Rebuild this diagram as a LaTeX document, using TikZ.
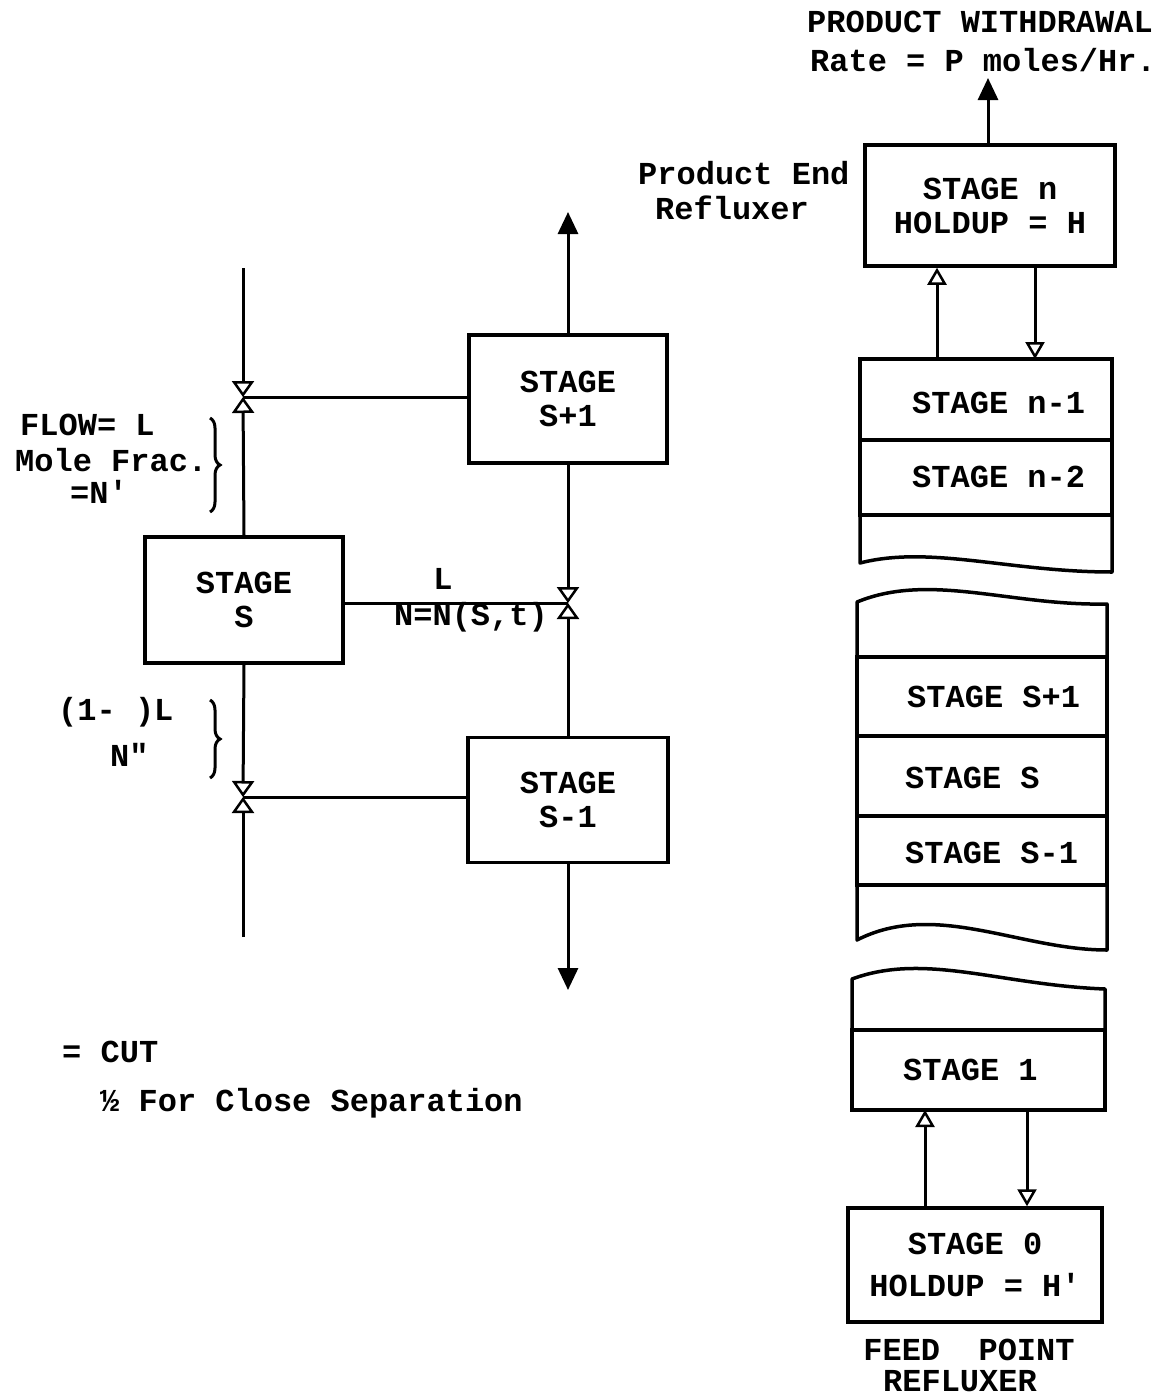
\documentclass[tikz,border=0pt]{standalone}
\usepackage{fontspec}
\setmonofont{Liberation Mono}
\usetikzlibrary{arrows.meta,decorations.pathreplacing}
\begin{document}
\begin{tikzpicture}[x=1pt,y=-1pt,
  font=\ttfamily\bfseries\fontsize{32}{34}\selectfont,
  box/.style={draw, line width=3.5pt, inner sep=0pt, align=center},
  rowbox/.style={draw, line width=3.5pt, outer sep=0pt, inner sep=0pt},
  bx/.style={line width=3.5pt, line join=round},
  ln/.style={line width=3pt},
  cut/.style={ln, -{Triangle[open, length=16pt, width=22pt, line width=2.5pt]}},
  flow/.style={ln, -{Triangle[open, length=17pt, width=19pt, line width=2.5pt]}},
  arr/.style={ln, -{Triangle[length=22pt, width=20pt]}},
  lbl/.style={inner sep=0pt, align=center},
  brc/.style={line width=3pt, decorate, decoration={brace, amplitude=10pt}},
]
\useasboundingbox (0,0) rectangle (1168,1400);

% ---------- left part ----------
\coordinate (j1) at (243,397);
\coordinate (j2) at (568,603);
\coordinate (j3) at (243,797);
\coordinate (ltop) at (243,268);
\coordinate (lbot) at (243,937);
\coordinate (mtop) at (568,212);
\coordinate (mbot) at (568,990);

\node[box, minimum width=198, minimum height=128] (sp) at (568,399) {STAGE\\S+1};
\node[box, minimum width=198, minimum height=126] (s)  at (244,600) {STAGE\\S};
\node[box, minimum width=200, minimum height=125] (sm) at (568,800) {STAGE\\S-1};

\draw[cut] (ltop) -- (j1);
\draw[cut] (s.north) -- (j1);
\draw[ln] (sp.west |- j1) -- (j1);
\draw[arr] (sp.north) -- (mtop);
\draw[cut] (sp.south) -- (j2);
\draw[cut] (sm.north) -- (j2);
\draw[ln] (s.east |- j2) -- (j2);
\draw[cut] (s.south) -- (j3);
\draw[cut] (lbot) -- (j3);
\draw[ln] (sm.west |- j3) -- (j3);
\draw[arr] (sm.south) -- (mbot);

\node[lbl] (lL) at (443,579) {L};
\node[lbl] (lN) at (471,617) {N=N(S,t)};

\node[lbl, anchor=west] (fl1) at (20,425) {FLOW= L};
\node[lbl, anchor=west] (fl2) at (15,460) {Mole Frac.};
\node[lbl, anchor=west] (fl3) at (70,492) {=N'};
\draw[brc] (210,418) -- (210,512);
\node[lbl, anchor=west] (fm1) at (58,712) {(1- )L};
\node[lbl, anchor=west] (fm2) at (110,755) {N"};
\draw[brc] (210,700) -- (210,778);

\node[lbl, anchor=west] (cut) at (62,1052) {= CUT};
\node[lbl, anchor=west] (sep) at (100,1103) {½ For Close Separation};

% ---------- right part ----------
\coordinate (ptop) at (988,78);
\node[lbl] (pw) at (980,22) {PRODUCT WITHDRAWAL};
\node[lbl] (rate) at (983,60) {Rate = P moles/Hr.};
\node[lbl, anchor=west] (pe) at (638,173) {Product End};
\node[lbl, anchor=west] (rf) at (655,208) {Refluxer};

\node[box, minimum width=250, minimum height=121] (bn) at (990,205.5) {STAGE n\\HOLDUP = H};
\draw[arr] (bn.north -| ptop) -- (ptop);

% section 1
\node[rowbox, minimum width=252, minimum height=81] (r1) at (986,399.5) {};
\node[rowbox, minimum width=252, minimum height=75] (r2) at (986,477.5) {};
\draw[bx] (r2.south west) -- (860,563) .. controls (930,545) and (1010,572) .. (1112,572) -- (r2.south east);
\node[lbl, anchor=west] (t1) at (912,403) {STAGE n-1};
\node[lbl, anchor=west] (t2) at (912,477) {STAGE n-2};

% section 2
\node[rowbox, minimum width=250, minimum height=79] (r4) at (982,696.5) {};
\node[rowbox, minimum width=250, minimum height=80] (r5) at (982,776) {};
\node[rowbox, minimum width=250, minimum height=69] (r6) at (982,850.5) {};
\draw[bx] (r4.north west) -- (857,602) .. controls (930,572) and (1010,606) .. (1107,604) -- (r4.north east);
\draw[bx] (r6.south west) -- (857,940) .. controls (935,900) and (1020,950) .. (1107,950) -- (r6.south east);
\node[lbl, anchor=west] (t4) at (907,697) {STAGE S+1};
\node[lbl, anchor=west] (t5) at (905,778) {STAGE S};
\node[lbl, anchor=west] (t6) at (905,853) {STAGE S-1};

% section 3
\node[rowbox, minimum width=253, minimum height=80] (r7) at (978.5,1070) {};
\draw[bx] (r7.north west) -- (852,979) .. controls (925,952) and (1000,985) .. (1105,989) -- (r7.north east);
\node[lbl, anchor=west] (t7) at (903,1070) {STAGE 1};

\node[box, minimum width=254, minimum height=114] (s0) at (975,1265) {STAGE 0\\[8pt]HOLDUP = H'};

\draw[flow] (r1.north -| 937,0) -- (bn.south -| 937,0);
\draw[flow] (bn.south -| 1035,0) -- (r1.north -| 1035,0);
\draw[flow] (s0.north -| 925,0) -- (r7.south -| 925,0);
\draw[flow] (r7.south -| 1027,0) -- (s0.north -| 1027,0);

\node[lbl] (fp) at (969,1350) {FEED~~POINT};
\node[lbl] (rx) at (960,1381) {REFLUXER};
\end{tikzpicture}
\end{document}
